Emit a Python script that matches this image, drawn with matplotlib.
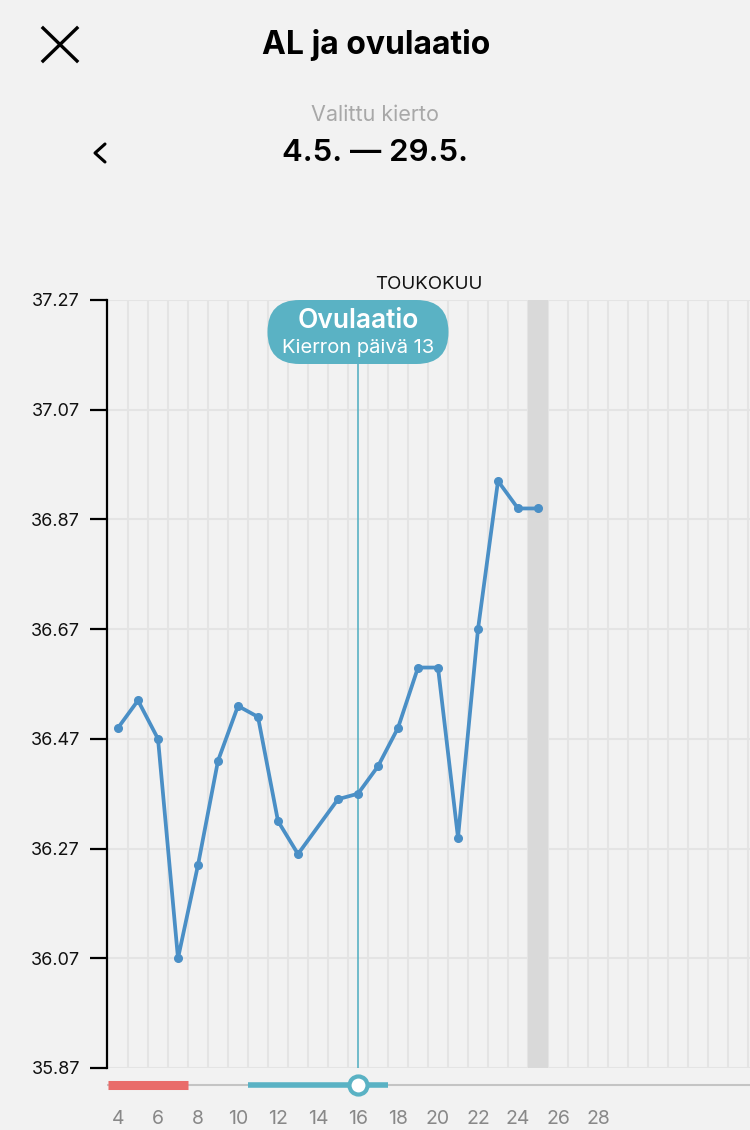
import matplotlib
matplotlib.use("Agg")
import matplotlib.pyplot as plt
from matplotlib.patches import FancyBboxPatch
from matplotlib.transforms import IdentityTransform
import numpy as np

plt.rcParams['font.family'] = ['Inter', 'DejaVu Sans']

# ---- data ----
days = [4, 5, 6, 7, 8, 9, 10, 11, 12, 13, 15, 16, 17, 18, 19, 20, 21, 22, 23, 24, 25]
temps = [36.49, 36.54, 36.47, 36.07, 36.24, 36.43, 36.53, 36.51, 36.32, 36.26,
         36.36, 36.37, 36.42, 36.49, 36.60, 36.60, 36.29, 36.67, 36.94, 36.89, 36.89]
y_ticks = [35.87, 36.07, 36.27, 36.47, 36.67, 36.87, 37.07, 37.27]
x_ticks = [4, 6, 8, 10, 12, 14, 16, 18, 20, 22, 24, 26, 28]
ovulation_day = 16
ovulation_cycle_day = 13
today_day = 25
period_range = (3.5, 7.5)
fertile_range = (10.5, 17.5)
month_label = "TOUKOKUU"
title = "AL ja ovulaatio"
subtitle = "Valittu kierto"
cycle_label = "4.5. — 29.5."

W, H = 750, 1130
BG = '#f2f2f2'
LINE = '#4a8fc6'
TEAL = '#5ab2c4'
RED = '#e96c6a'
GRID = '#e4e4e4'

fig = plt.figure(figsize=(W / 100, H / 100), dpi=100, facecolor=BG)

def fx(x):
    return x / W

def fy(y):
    return 1 - y / H

# ---- main axes ----
left_px, top_px, bot_px = 107, 300, 1068
ax = fig.add_axes([fx(left_px), fy(bot_px), fx(W - left_px), (bot_px - top_px) / H])
ax.set_facecolor(BG)
xmin = 3.45
xmax = xmin + (W - left_px) / 20.0
ax.set_xlim(xmin, xmax)
ax.set_ylim(y_ticks[0], y_ticks[-1])

# vertical grid at day boundaries
for b in np.arange(4.5, xmax, 1.0):
    ax.axvline(b, color=GRID, lw=1.5, zorder=0)
for v in y_ticks:
    ax.axhline(v, color=GRID, lw=1.5, zorder=0)

# today column
ax.axvspan(today_day - 0.5, today_day + 0.5, color='#d9d9d9', zorder=0.5, lw=0)

# ovulation line
ax.axvline(ovulation_day, color=TEAL, lw=1.2, zorder=1,
           ymax=(bot_px - 364) / (bot_px - top_px))

ax.plot(days, temps, color=LINE, lw=2.7, marker='o', markersize=5.5, zorder=3,
        solid_joinstyle='round')

ax.set_yticks(y_ticks)
ax.set_yticklabels([f"{v:.2f}" for v in y_ticks])
ax.set_xticks([])
ax.tick_params(axis='y', length=12.5, width=1.6, color='black', labelsize=13, pad=7,
               labelcolor='#111111')
for s in ['top', 'right', 'bottom']:
    ax.spines[s].set_visible(False)
ax.spines['left'].set_linewidth(1.6)
ax.spines['left'].set_color('black')

# ---- slider axes ----
ax2 = fig.add_axes([fx(left_px), fy(1100), fx(W - left_px), 30 / H])
ax2.set_facecolor('none')
ax2.set_xlim(xmin, xmax)
ax2.set_ylim(0, 1)
ax2.axhline(0.5, color='#c4c4c4', lw=1.5, zorder=1)
ax2.plot(list(period_range), [0.5, 0.5], color=RED, lw=6.5, solid_capstyle='butt', zorder=2)
ax2.plot(list(fertile_range), [0.5, 0.5], color=TEAL, lw=4, solid_capstyle='butt', zorder=2)
ax2.plot([ovulation_day], [0.5], marker='o', markersize=13, markerfacecolor='white',
         markeredgecolor=TEAL, markeredgewidth=3, zorder=3)
ax2.set_xticks(x_ticks)
ax2.set_xticklabels([str(t) for t in x_ticks])
ax2.set_yticks([])
ax2.tick_params(axis='x', length=0, pad=7, labelsize=14, labelcolor='#888888')
for s in ax2.spines.values():
    s.set_visible(False)

# ---- header ----
fig.text(fx(376), fy(45), title, ha='center', va='center', fontsize=23, fontweight='bold',
         color='black')
fig.text(fx(375), fy(115), subtitle, ha='center', va='center', fontsize=15.5, color='#a8a8a8')
fig.text(fx(375), fy(153), cycle_label, ha='center', va='center', fontsize=22.5,
         fontweight='semibold', color='black')
fig.text(fx(429), fy(284), month_label, ha='center', va='center', fontsize=13.5, color='#111111')

# close X
fig.add_artist(plt.Line2D([fx(43), fx(77)], [fy(28), fy(61)], color='black', lw=2.4))
fig.add_artist(plt.Line2D([fx(43), fx(77)], [fy(61), fy(28)], color='black', lw=2.4))
# back chevron
fig.add_artist(plt.Line2D([fx(105), fx(95), fx(105)], [fy(144), fy(153), fy(162)],
                          color='black', lw=2.2, solid_capstyle='round', solid_joinstyle='round'))

# ovulation badge
fig.canvas.draw()
cx_disp = ax.transData.transform((ovulation_day, y_ticks[-1]))[0]
bw, bh = 181, 64
by_top = H - 300
badge = FancyBboxPatch((cx_disp - bw / 2, by_top - bh), bw, bh,
                       boxstyle="round,pad=0,rounding_size=32", transform=IdentityTransform(),
                       facecolor=TEAL, edgecolor='none', zorder=5)
fig.add_artist(badge)
fig.text(cx_disp / W, fy(321), "Ovulaatio", ha='center', va='center', fontsize=19,
         fontweight='semibold', color='white', zorder=6)
fig.text(cx_disp / W, fy(348), f"Kierron päivä {ovulation_cycle_day}", ha='center', va='center',
         fontsize=14.5, color='white', zorder=6)

fig.savefig('out.png', dpi=100, facecolor=BG)
